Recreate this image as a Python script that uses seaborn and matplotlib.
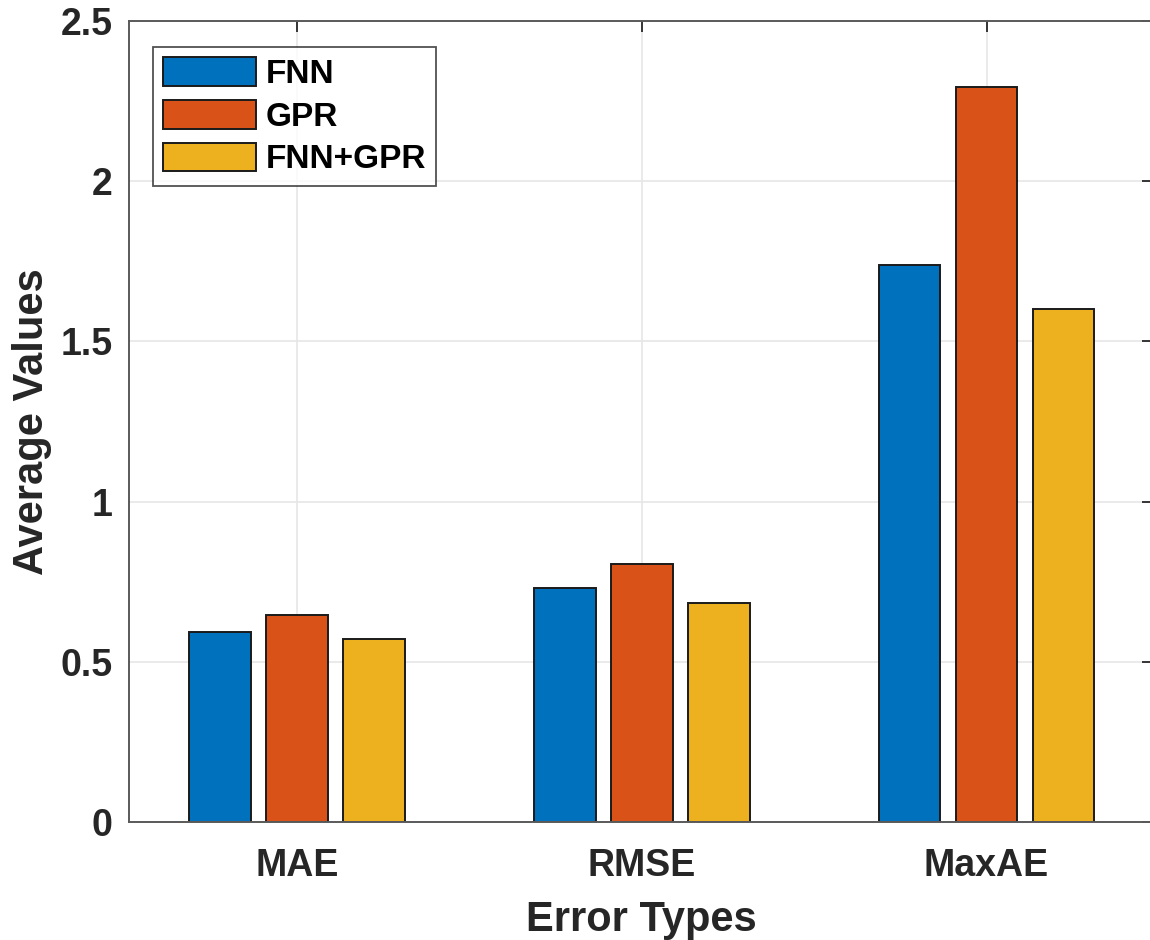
import matplotlib
matplotlib.use("Agg")
import matplotlib.pyplot as plt
import seaborn as sns
import pandas as pd

categories = ["MAE", "RMSE", "MaxAE"]
models = ["FNN", "GPR", "FNN+GPR"]
fnn_vals = [0.594, 0.731, 1.739]
gpr_vals = [0.647, 0.806, 2.293]
hybrid_vals = [0.570, 0.684, 1.602]
y_ticks = [0, 0.5, 1, 1.5, 2, 2.5]
y_tick_labels = ["0", "0.5", "1", "1.5", "2", "2.5"]
colors = ["#0072BD", "#D95319", "#EDB120"]

rows = []
for m, vals in zip(models, [fnn_vals, gpr_vals, hybrid_vals]):
    for c, v in zip(categories, vals):
        rows.append({"Error Types": c, "Model": m, "Average Values": v})
df = pd.DataFrame(rows)

sns.set_theme(style="white")
plt.rcParams["font.family"] = ["Liberation Sans", "DejaVu Sans"]
plt.rcParams["font.weight"] = "bold"

fig = plt.figure(figsize=(11.5, 9.4), dpi=100)
W, H = 1150, 940
ax = fig.add_axes([129 / W, (H - 822) / H, (1153 - 129) / W, (822 - 21) / H])

sns.barplot(data=df, x="Error Types", y="Average Values", hue="Model",
            order=categories, hue_order=models, palette=colors,
            width=0.67, gap=0.2, edgecolor="#1a1a1a", linewidth=1.4,
            saturation=1, ax=ax, zorder=2)

ax.set_ylim(0, 2.5)
ax.set_xlim(-0.488, 2.483)
ax.set_yticks(y_ticks)
ax.set_yticklabels(y_tick_labels)

for y in y_ticks:
    ax.axhline(y, color="#e6e6e6", lw=1.2, zorder=0)
for x in range(len(categories)):
    ax.axvline(x, color="#e6e6e6", lw=1.2, zorder=0)

spine_col = "#5a5a5a"
for s in ax.spines.values():
    s.set_color(spine_col)
    s.set_linewidth(1.4)
    s.set_visible(True)

ax.tick_params(axis="both", direction="in", length=8, width=1.3, color="#262626",
               top=True, right=True, labelsize=27, labelcolor="#262626")
ax.tick_params(axis="x", pad=19)
ax.tick_params(axis="y", pad=12)
for lab in ax.get_xticklabels() + ax.get_yticklabels():
    lab.set_fontweight("bold")

ax.set_xlabel("Error Types", fontsize=30, fontweight="bold", color="#262626", labelpad=11)
ax.set_ylabel("Average Values", fontsize=30, fontweight="bold", color="#262626", labelpad=6)

handles, labels = ax.get_legend_handles_labels()
leg = ax.legend(handles, labels, loc="upper left",
                bbox_to_anchor=(153 / W, 1 - 47 / H), bbox_transform=fig.transFigure,
                fontsize=24, frameon=True, fancybox=False, shadow=False,
                handlelength=2.8, handleheight=0.95, labelspacing=0.3,
                handletextpad=0.27, borderpad=0.3, borderaxespad=0)
leg.get_frame().set_edgecolor("#262626")
leg.get_frame().set_linewidth(1.3)
for t in leg.get_texts():
    t.set_fontweight("bold")
    t.set_color("black")

fig.savefig("out.png", dpi=100)
